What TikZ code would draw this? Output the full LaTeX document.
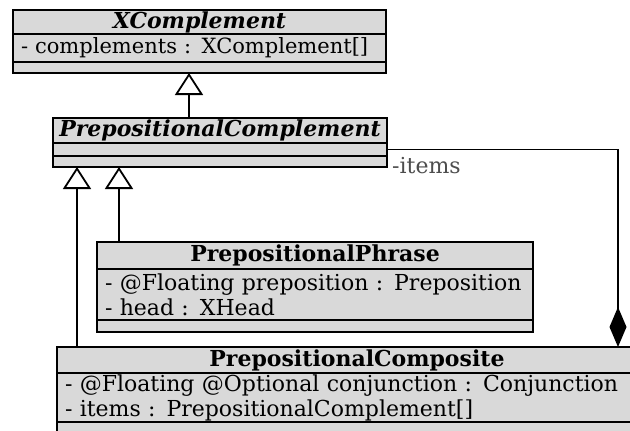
\documentclass[tikz,border=0pt]{standalone}
\usepackage{fontspec}
\setmainfont{DejaVu Serif}
\usetikzlibrary{arrows.meta,positioning}
\definecolor{classgray}{HTML}{D9D9D9}
\definecolor{labelgray}{HTML}{4D4D4D}

\tikzset{
  umlrow/.style={draw=black, line width=1.8pt, fill=classgray, anchor=north west,
    inner sep=0pt, outer sep=0pt, minimum width=#1},
  umlattr/.style={umlrow=#1, text width=#1-16pt, inner xsep=8pt, align=left,
    font=\fontsize{22}{25}\selectfont},
  umltitle/.style={umlrow=#1, font=\fontsize{22}{24}\selectfont\bfseries},
  extends/.style={line width=1.8pt, -{Triangle[open, length=22pt, width=28pt, line width=1.8pt]}},
  composite/.style={line width=1.8pt, -{Diamond[length=40pt, width=17pt]}},
}

\begin{document}
\begin{tikzpicture}[x=1pt, y=-1pt]
\useasboundingbox (0,0) rectangle (630,431);
\clip (0,0) rectangle (630,431);

% XComplement
\node[umltitle=373pt, minimum height=24pt] (xc-title) at (13,10) {\itshape XComplement};
\node[umlattr=373pt, minimum height=28pt, font=\fontsize{21}{25}\selectfont] (xc-attr) at (xc-title.south west) {- complements : XComplement[]};
\node[umlrow=373pt, minimum height=11pt] (xc-op) at (xc-attr.south west) {};

% PrepositionalComplement
\node[umltitle=334pt, minimum height=25pt] (pc-title) at (53,118) {\itshape PrepositionalComplement};
\node[umlrow=334pt, minimum height=13pt] (pc-attr) at (pc-title.south west) {};
\node[umlrow=334pt, minimum height=11pt] (pc-op) at (pc-attr.south west) {};

% PrepositionalPhrase
\node[umltitle=436pt, minimum height=27pt] (pp-title) at (97,242) {PrepositionalPhrase};
\node[umlattr=436pt, minimum height=51pt] (pp-attr) at (pp-title.south west)
  {- @Floating preposition : Preposition\\- head : XHead};
\node[umlrow=436pt, minimum height=12pt] (pp-op) at (pp-attr.south west) {};

% PrepositionalComposite
\node[umltitle=600pt, minimum height=26pt] (ps-title) at (57,347) {PrepositionalComposite};
\node[umlattr=600pt, minimum height=49pt] (ps-attr) at (ps-title.south west)
  {- @Floating @Optional conjunction : Conjunction\\- items : PrepositionalComplement[]};
\node[umlrow=600pt, minimum height=20pt] (ps-op) at (ps-attr.south west) {};

% generalisations
\draw[extends] ([xshift=136pt]pc-title.north west) -- ([xshift=136pt]pc-title.north west |- xc-op.south);
\draw[extends] ([xshift=20pt]ps-title.north west) -- ([xshift=20pt]ps-title.north west |- pc-op.south);
\draw[extends] ([xshift=22pt]pp-title.north west) -- ([xshift=22pt]pp-title.north west |- pc-op.south);

% composition
\draw[composite] (pc-attr.east) -| ([xshift=561pt]ps-title.north west);
\node[anchor=base west, text=labelgray, font=\fontsize{22}{26}\selectfont, inner sep=0pt]
  (items) at ([xshift=5pt, yshift=-24pt]pc-attr.east) {-items};
\end{tikzpicture}
\end{document}
